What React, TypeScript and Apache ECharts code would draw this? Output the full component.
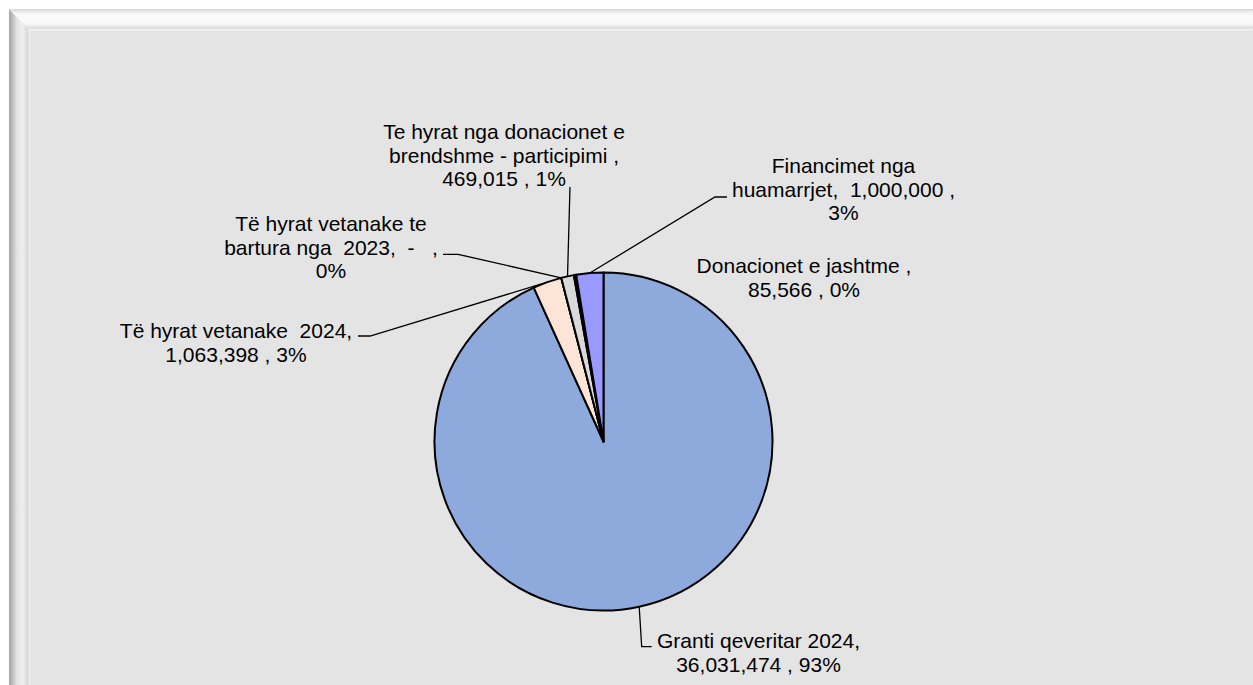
import React, { useEffect, useRef } from "react";
import * as echarts from "echarts";

// ---- data ----
const categories = [
  "Granti qeveritar 2024",
  "Të hyrat vetanake  2024",
  "Të hyrat vetanake te bartura nga  2023",
  "Te hyrat nga donacionet e brendshme - participimi",
  "Donacionet e jashtme",
  "Financimet nga huamarrjet",
];
const values = [36031474, 1063398, 0, 469015, 85566, 1000000];
// label texts as wrapped in the original ({v} = value, {p} = percent)
const labelTemplates = [
  "Granti qeveritar 2024,\n{v} , {p}",
  "Të hyrat vetanake  2024,\n{v} , {p}",
  "Të hyrat vetanake te\nbartura nga  2023, {v} ,\n{p}",
  "Te hyrat nga donacionet e\nbrendshme - participimi ,\n{v} , {p}",
  "Donacionet e jashtme ,\n{v} , {p}",
  "Financimet nga\nhuamarrjet,  {v} ,\n{p}",
];

// ---- styling / layout ----
const colors = ["#8EA9DB", "#FCE4D6", "#FFFFFF", "#D9D9D9", "#111111", "#9999FF"];
const labelCenters = [
  [758.5, 652.7],
  [236, 342.7],
  [331, 247],
  [504, 155.4],
  [804, 277.4],
  [843.5, 189.4],
];
const leaderKnees: (number[][] | null)[] = [
  [[641.7, 646.7], [651.7, 646.7]],
  [[370, 336], [358, 336]],
  [[458, 254.3], [443, 254.3]],
  [[570, 187]],
  null,
  [[715, 197], [727, 197]],
];

function fmtValue(v: number): string {
  if (v === 0) return " -  ";
  return v.toLocaleString("en-US");
}

export default function App() {
  const ref = useRef<HTMLDivElement>(null);
  useEffect(() => {
    if (!ref.current) return;
    const chart = echarts.init(ref.current, null, { renderer: "svg" });
    const total = values.reduce((a, b) => a + b, 0);
    const option: any = {
      animation: false,
      backgroundColor: "#ffffff",
      graphic: [
        {
          type: "rect",
          silent: true,
          shape: { x: 31, y: 31, width: 1222, height: 654 },
          style: { fill: "#e4e4e4" },
        },
        {
          type: "polygon",
          silent: true,
          shape: { points: [[9, 9], [31, 31], [31, 685], [9, 685]] },
          style: {
            fill: {
              type: "linear", x: 0, y: 0, x2: 1, y2: 0,
              colorStops: [
                { offset: 0, color: "#a4a4a4" },
                { offset: 0.15, color: "#bcbcbc" },
                { offset: 0.35, color: "#e2e2e2" },
                { offset: 0.6, color: "#efefef" },
                { offset: 0.78, color: "#e0e0e0" },
                { offset: 0.86, color: "#d4d4d4" },
                { offset: 0.9, color: "#ececec" },
                { offset: 1, color: "#e8e8e8" },
              ],
            },
          },
        },
        {
          type: "polygon",
          silent: true,
          shape: { points: [[9, 9], [1253, 9], [1253, 31], [31, 31]] },
          style: {
            fill: {
              type: "linear", x: 0, y: 0, x2: 0, y2: 1,
              colorStops: [
                { offset: 0, color: "#d4d4d4" },
                { offset: 0.15, color: "#efefef" },
                { offset: 0.3, color: "#fbfbfb" },
                { offset: 0.68, color: "#f8f8f8" },
                { offset: 0.8, color: "#e6e6e6" },
                { offset: 0.88, color: "#dedede" },
                { offset: 0.92, color: "#f2f2f2" },
                { offset: 1, color: "#ececec" },
              ],
            },
          },
        },
      ],
      series: [
        {
          type: "pie",
          center: [603.5, 441.5],
          radius: 169,
          startAngle: 90,
          clockwise: true,
          avoidLabelOverlap: false,
          itemStyle: { borderColor: "#000", borderWidth: 2 },
          label: {
            show: true,
            position: "outside",
            color: "#000",
            fontFamily: "Liberation Sans, Arial, sans-serif",
            fontSize: 21,
            lineHeight: 23.5,
            align: "center",
            formatter: (p: any) => {
              const pct = Math.round((values[p.dataIndex] / total) * 100) + "%";
              return labelTemplates[p.dataIndex]
                .replace("{v}", fmtValue(values[p.dataIndex]))
                .replace("{p}", pct);
            },
          },
          labelLine: {
            show: true,
            lineStyle: { color: "#000", width: 1.3 },
          },
          labelLayout: (params: any) => {
            const i = params.dataIndex;
            const c = labelCenters[i];
            const res: any = { x: c[0], y: c[1], align: "center", verticalAlign: "middle" };
            const knees = leaderKnees[i];
            if (knees && params.labelLinePoints) {
              res.labelLinePoints = [params.labelLinePoints[0], ...knees];
            }
            return res;
          },
          data: categories.map((name, i) => ({
            name,
            value: values[i],
            itemStyle: { color: colors[i] },
            labelLine: { show: leaderKnees[i] !== null },
          })),
        },
      ],
    };
    chart.setOption(option);
    return () => chart.dispose();
  }, []);
  return (
    <div
      ref={ref}
      style={{ position: "absolute", left: 0, top: 0, width: 1253, height: 685 }}
    />
  );
}
